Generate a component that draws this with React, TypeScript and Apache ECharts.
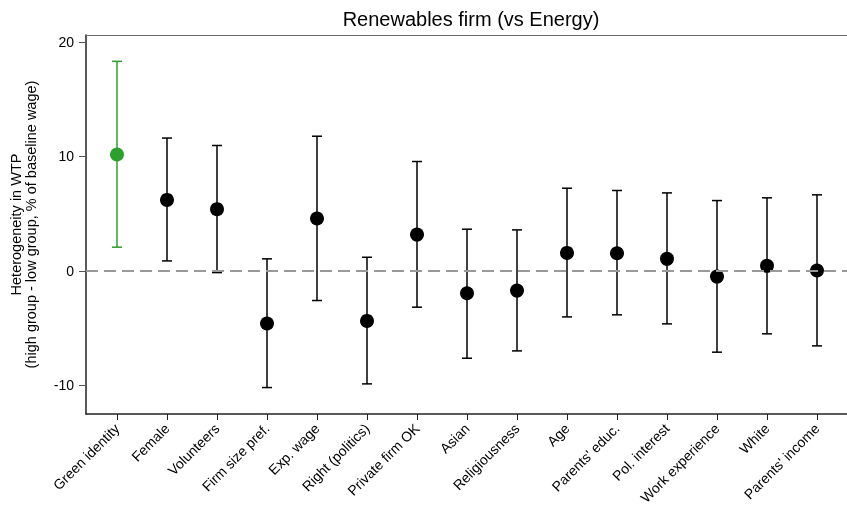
import React, { useEffect, useRef } from "react";
import * as echarts from "echarts";

const categories = [
  "Green identity",
  "Female",
  "Volunteers",
  "Firm size pref.",
  "Exp. wage",
  "Right (politics)",
  "Private firm OK",
  "Asian",
  "Religiousness",
  "Age",
  "Parents' educ.",
  "Pol. interest",
  "Work experience",
  "White",
  "Parents' income",
];
const estimates = [10.16, 6.2, 5.39, -4.6, 4.57, -4.37, 3.17, -1.95, -1.72, 1.57, 1.54, 1.05, -0.5, 0.44, 0.03];
const upperCI = [18.3, 11.6, 10.95, 1.05, 11.76, 1.19, 9.55, 3.64, 3.58, 7.22, 7.02, 6.81, 6.14, 6.38, 6.64];
const lowerCI = [2.07, 0.87, -0.15, -10.19, -2.59, -9.87, -3.17, -7.63, -6.99, -4.02, -3.84, -4.63, -7.1, -5.5, -6.55];
const yTicks = [-10, 0, 10, 20];
const highlightIndex = 0;

const GREEN = "#2ca02c";
const BLACK = "#000000";
const FONT = "Liberation Sans";

export default function App() {
  const ref = useRef<HTMLDivElement>(null);
  useEffect(() => {
    if (!ref.current) return;
    const chart = echarts.init(ref.current, undefined, { renderer: "svg" });
    const positions = categories.map((_, i) => i + 1);
    const colorOf = (i: number) => (i === highlightIndex ? GREEN : BLACK);

    const ciData = categories.map((_, i) => ({
      value: [i + 1, lowerCI[i], upperCI[i]],
      itemStyle: { color: colorOf(i) },
    }));
    const pointData = categories.map((_, i) => ({
      value: [i + 1, estimates[i]],
      itemStyle: { color: colorOf(i), opacity: 1 },
    }));

    chart.setOption({
      animation: false,
      textStyle: { fontFamily: FONT },
      title: {
        text: "Renewables firm (vs Energy)",
        left: 466,
        textAlign: "center",
        top: 4,
        textStyle: { fontFamily: FONT, fontSize: 20, fontWeight: "normal", color: "#000" },
      },
      grid: { left: 85, right: 0, top: 35, bottom: 94, containLabel: false },
      xAxis: [
        {
          type: "value",
          min: 0.38,
          max: 15.6,
          splitLine: { show: false },
          axisLine: { show: true, onZero: false, lineStyle: { color: "#222", width: 1.5 } },
          axisTick: {
            show: true,
            length: 6,
            customValues: positions,
            lineStyle: { color: "#222", width: 1 },
          },
          axisLabel: {
            show: true,
            customValues: positions,
            rotate: 45,
            margin: 12,
            fontSize: 14,
            fontFamily: FONT,
            color: "#000",
            formatter: (v: number) => categories[Math.round(v) - 1] ?? "",
          },
        },
        {
          type: "value",
          position: "top",
          min: 0.38,
          max: 15.6,
          splitLine: { show: false },
          axisLine: { show: true, onZero: false, lineStyle: { color: "#666", width: 1 } },
          axisTick: { show: false },
          axisLabel: { show: false },
        },
      ],
      yAxis: {
        type: "value",
        min: -12.5,
        max: 20.6,
        name: "Heterogeneity in WTP\n(high group - low group, % of baseline wage)",
        nameLocation: "middle",
        nameGap: 48,
        nameTextStyle: { fontFamily: FONT, fontSize: 14.5, color: "#000", lineHeight: 15 },
        splitLine: { show: false },
        axisLine: { show: true, onZero: false, lineStyle: { color: "#222", width: 1.5 } },
        axisTick: { show: true, length: 7, customValues: yTicks, lineStyle: { color: "#555" } },
        axisLabel: {
          show: true,
          customValues: yTicks,
          fontSize: 14,
          fontFamily: FONT,
          color: "#000",
          margin: 12,
        },
      },
      series: [
        {
          type: "custom",
          xAxisIndex: 0,
          data: ciData,
          z: 2,
          renderItem: (params: any, api: any) => {
            const x = api.value(0);
            const lo = api.coord([x, api.value(1)]);
            const hi = api.coord([x, api.value(2)]);
            const color = api.visual("color");
            const cap = 5;
            const style = { stroke: color, lineWidth: 1.5 };
            return {
              type: "group",
              children: [
                { type: "line", shape: { x1: lo[0], y1: lo[1], x2: hi[0], y2: hi[1] }, style },
                { type: "line", shape: { x1: hi[0] - cap, y1: hi[1], x2: hi[0] + cap, y2: hi[1] }, style },
                { type: "line", shape: { x1: lo[0] - cap, y1: lo[1], x2: lo[0] + cap, y2: lo[1] }, style },
              ],
            };
          },
        },
        {
          type: "scatter",
          xAxisIndex: 0,
          data: pointData,
          symbol: "circle",
          symbolSize: 14,
          z: 3,
          markLine: {
            silent: true,
            symbol: "none",
            label: { show: false },
            lineStyle: { color: "#999", width: 2, type: [12, 6] },
            data: [{ yAxis: 0 }],
          },
        },
      ],
    });
    return () => chart.dispose();
  }, []);
  return (
    <div
      ref={ref}
      style={{ position: "fixed", left: 0, top: 0, width: 847, height: 508 }}
    />
  );
}
